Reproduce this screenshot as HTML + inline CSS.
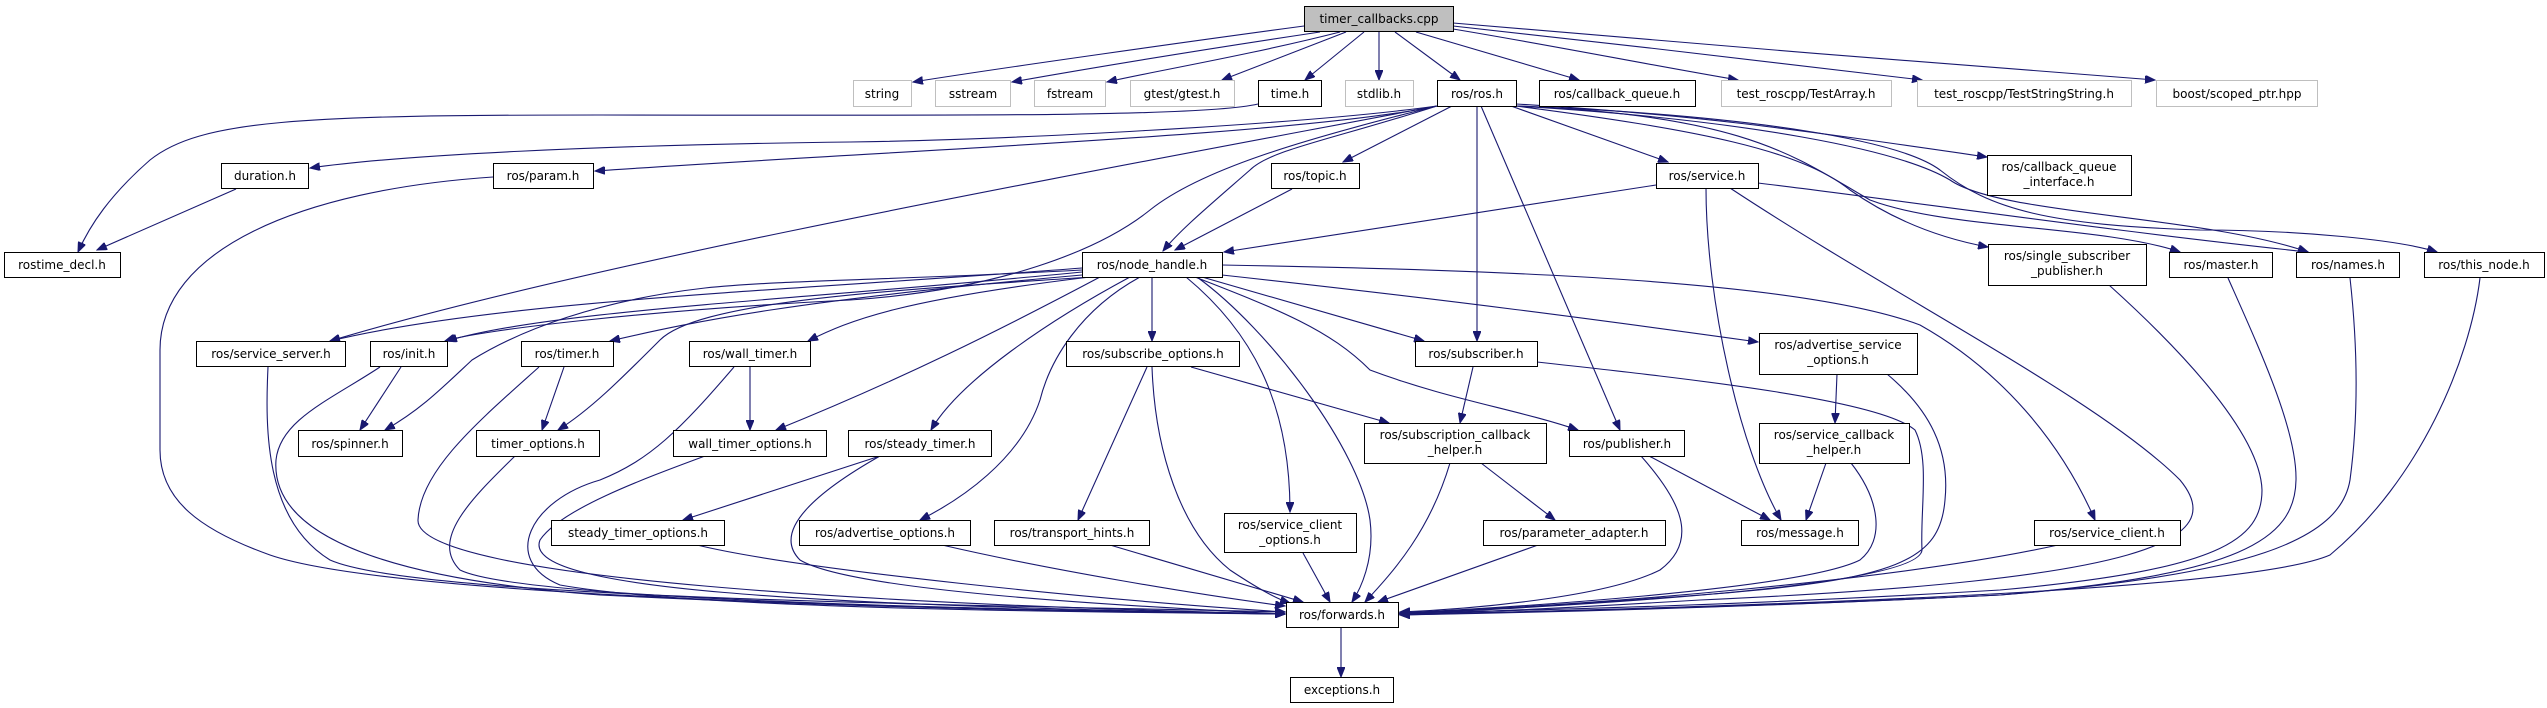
<!DOCTYPE html>
<html><head><meta charset="utf-8"><style>
html,body{margin:0;padding:0;background:#fff;}
svg{display:block;}
text{font-family:"DejaVu Sans","Liberation Sans",sans-serif;font-size:12px;fill:#000;text-anchor:middle;}
.e{fill:none;stroke:#191970;stroke-width:1.1;marker-end:url(#a);}
.b{fill:#fff;stroke:#000;stroke-width:1;}
.g{fill:#fff;stroke:#bfbfbf;stroke-width:1;}
</style></head><body>
<svg width="2547" height="708" viewBox="0 0 2547 708" xmlns="http://www.w3.org/2000/svg">
<defs><marker id="a" markerUnits="userSpaceOnUse" markerWidth="11" markerHeight="8" refX="10" refY="4" orient="auto"><path d="M0,0 L10,4 L0,8 z" fill="#191970" stroke="#191970"/></marker></defs>

<!-- edges from root -->
<path class="e" d="M1304,26 C1200,40 1000,68 913,82"/>
<path class="e" d="M1320,32 C1200,50 1080,70 1012,82"/>
<path class="e" d="M1340,32 C1250,55 1150,72 1107,82"/>
<path class="e" d="M1346,32 C1300,50 1260,65 1222,80"/>
<path class="e" d="M1364,32 L1305,80"/>
<path class="e" d="M1379,32 L1379,80"/>
<path class="e" d="M1395,32 L1460,80"/>
<path class="e" d="M1416,32 L1579,80"/>
<path class="e" d="M1453,29 C1550,45 1650,65 1738,80"/>
<path class="e" d="M1453,26 C1600,42 1800,65 1922,80"/>
<path class="e" d="M1453,23 C1650,40 1950,65 2155,80"/>

<!-- time.h -->
<path class="e" d="M1258,104 C1200,118 900,115 600,115 C300,115 200,120 150,160 C110,195 90,225 78,252"/>
<!-- ros.h -->
<path class="e" d="M1437,106 C1300,125 1000,140 850,142 C600,145 400,155 310,168"/>
<path class="e" d="M1437,106 C1300,135 900,150 595,171"/>
<path class="e" d="M1437,106 C1100,170 600,260 330,341"/>
<path class="e" d="M1437,106 C1300,140 1200,170 1150,210 C1100,250 1000,290 850,300 C650,310 480,330 445,341"/>
<path class="e" d="M1452,106 L1343,162"/>
<path class="e" d="M1437,106 C1330,140 1270,150 1250,170 C1210,205 1180,230 1163,251"/>
<path class="e" d="M1477,106 L1477,341"/>
<path class="e" d="M1481,106 L1620,430"/>
<path class="e" d="M1511,106 L1668,162"/>
<path class="e" d="M1516,104 C1700,115 1800,130 1987,157"/>
<path class="e" d="M1516,106 C1700,130 1800,150 1850,190 C1900,225 1950,240 1988,247"/>
<path class="e" d="M1516,106 C1750,115 1800,160 1870,200 C1950,230 2100,225 2180,252"/>
<path class="e" d="M1516,106 C1750,120 1900,150 1950,180 C2000,215 2200,215 2308,252"/>
<path class="e" d="M1516,106 C1750,115 1900,140 1940,170 C1990,210 2050,225 2200,230 C2300,230 2400,240 2437,252"/>
<!-- duration, param, topic -->
<path class="e" d="M236,189 L97,250"/>
<path class="e" d="M493,177 C300,190 160,250 160,350 L160,450 C160,500 200,530 270,555 C400,600 1000,610 1285,614"/>
<path class="e" d="M1292,189 L1175,250"/>
<!-- service.h -->
<path class="e" d="M1656,185 L1224,252"/>
<path class="e" d="M1706,188 C1706,300 1740,450 1781,520"/>
<path class="e" d="M1730,188 C1900,300 2100,400 2180,480 C2230,540 2150,580 1700,600 C1500,612 1420,614 1400,614"/>
<path class="e" d="M1758,183 C1900,200 2100,230 2308,252"/>
<!-- node_handle.h -->
<path class="e" d="M1082,268 C800,290 500,300 330,341"/>
<path class="e" d="M1082,272 C800,300 550,310 447,341"/>
<path class="e" d="M1082,270 C900,280 780,280 705,288 C600,300 520,330 472,360 C440,390 420,410 385,430"/>
<path class="e" d="M1082,275 C800,300 700,320 610,341"/>
<path class="e" d="M1090,277 C900,290 700,300 660,340 C620,380 590,410 558,430"/>
<path class="e" d="M1090,277 C900,300 850,320 808,341"/>
<path class="e" d="M1100,277 C1000,330 900,380 776,430"/>
<path class="e" d="M1130,277 C1050,320 960,380 931,430"/>
<path class="e" d="M1140,277 C1080,310 1050,360 1040,400 C1020,460 960,500 920,520"/>
<path class="e" d="M1152,277 L1152,341"/>
<path class="e" d="M1186,277 C1250,330 1290,400 1290,512"/>
<path class="e" d="M1197,277 C1270,330 1360,450 1370,520 C1375,560 1360,590 1352,602"/>
<path class="e" d="M1202,277 L1424,341"/>
<path class="e" d="M1195,277 C1280,310 1330,330 1370,370 C1450,400 1520,410 1578,430"/>
<path class="e" d="M1222,275 C1450,300 1600,320 1758,342"/>
<path class="e" d="M1222,265 C1500,270 1800,280 1920,325 C2000,370 2060,440 2095,520"/>
<!-- middle rows -->
<path class="e" d="M268,367 C265,430 265,520 330,560 C420,600 1000,605 1285,612"/>
<path class="e" d="M401,367 L360,430"/>
<path class="e" d="M380,367 C330,400 280,420 276,460 C270,540 400,580 600,595 C900,610 1150,612 1285,614"/>
<path class="e" d="M564,367 L542,430"/>
<path class="e" d="M539,367 C480,420 420,470 418,520 C415,580 900,605 1285,614"/>
<path class="e" d="M515,456 C470,500 430,540 460,570 C520,600 1000,610 1285,614"/>
<path class="e" d="M734,367 C680,430 650,460 600,480 C530,500 500,560 560,585 C700,610 1100,612 1285,614"/>
<path class="e" d="M750,367 L750,430"/>
<path class="e" d="M705,456 C640,480 560,510 540,540 C520,590 800,605 1285,614"/>
<path class="e" d="M880,456 L683,520"/>
<path class="e" d="M880,456 C820,490 770,530 800,560 C850,590 1100,605 1285,614"/>
<path class="e" d="M697,545 C800,570 1100,600 1285,612"/>
<path class="e" d="M942,545 C1050,570 1200,595 1285,606"/>
<path class="e" d="M1147,367 L1078,520"/>
<path class="e" d="M1152,367 C1155,450 1180,530 1230,570 C1260,590 1280,600 1290,603"/>
<path class="e" d="M1191,367 L1389,423"/>
<path class="e" d="M1110,545 L1303,602"/>
<path class="e" d="M1303,553 L1330,602"/>
<path class="e" d="M1473,367 L1460,423"/>
<path class="e" d="M1537,362 C1700,380 1880,400 1915,430 C1930,460 1920,510 1922,550 C1920,580 1700,600 1400,614"/>
<path class="e" d="M1481,463 L1555,520"/>
<path class="e" d="M1450,463 C1430,530 1395,570 1365,602"/>
<path class="e" d="M1538,545 L1378,602"/>
<path class="e" d="M1649,456 L1770,520"/>
<path class="e" d="M1641,456 C1680,500 1700,540 1660,570 C1600,600 1450,610 1400,612"/>
<path class="e" d="M1837,374 L1835,423"/>
<path class="e" d="M1887,374 C1930,410 1950,450 1945,500 C1940,560 1900,580 1700,595 C1500,610 1420,612 1400,613"/>
<path class="e" d="M1826,463 L1806,520"/>
<path class="e" d="M1851,463 C1880,500 1885,540 1860,560 C1800,590 1500,608 1400,613"/>
<path class="e" d="M2058,545 C1900,580 1600,605 1400,613"/>
<path class="e" d="M2109,285 C2170,340 2260,430 2262,490 C2262,540 2220,570 2000,590 C1700,608 1450,612 1400,613"/>
<path class="e" d="M2228,278 C2260,350 2297,430 2296,480 C2295,540 2240,575 2000,595 C1700,610 1450,613 1400,614"/>
<path class="e" d="M2350,278 C2358,350 2358,420 2350,480 C2340,540 2250,575 2000,595 C1700,610 1450,614 1400,615"/>
<path class="e" d="M2480,278 C2470,360 2420,480 2330,555 C2250,590 1800,605 1400,615"/>
<path class="e" d="M1341,627 L1341,677"/>

<!-- nodes -->
<rect x="1304.5" y="6.5" width="149" height="25" fill="#bfbfbf" stroke="#000"/><text x="1379" y="23">timer_callbacks.cpp</text>
<rect class="g" x="853.5" y="80.5" width="58" height="26"/><text x="882" y="98">string</text>
<rect class="g" x="935.5" y="80.5" width="75" height="26"/><text x="973" y="98">sstream</text>
<rect class="g" x="1034.5" y="80.5" width="71" height="26"/><text x="1070" y="98">fstream</text>
<rect class="g" x="1130.5" y="80.5" width="104" height="26"/><text x="1182" y="98">gtest/gtest.h</text>
<rect class="b" x="1258.5" y="80.5" width="63" height="26"/><text x="1290" y="98">time.h</text>
<rect class="g" x="1345.5" y="80.5" width="68" height="26"/><text x="1379" y="98">stdlib.h</text>
<rect class="b" x="1437.5" y="80.5" width="79" height="26"/><text x="1477" y="98">ros/ros.h</text>
<rect class="b" x="1539.5" y="80.5" width="156" height="26"/><text x="1617" y="98">ros/callback_queue.h</text>
<rect class="g" x="1721.5" y="80.5" width="170" height="26"/><text x="1806" y="98">test_roscpp/TestArray.h</text>
<rect class="g" x="1917.5" y="80.5" width="214" height="26"/><text x="2024" y="98">test_roscpp/TestStringString.h</text>
<rect class="g" x="2156.5" y="80.5" width="161" height="26"/><text x="2237" y="98">boost/scoped_ptr.hpp</text>

<rect class="b" x="221.5" y="163.5" width="87" height="25"/><text x="265" y="180">duration.h</text>
<rect class="b" x="493.5" y="163.5" width="100" height="25"/><text x="543" y="180">ros/param.h</text>
<rect class="b" x="1271.5" y="163.5" width="88" height="25"/><text x="1315" y="180">ros/topic.h</text>
<rect class="b" x="1656.5" y="163.5" width="102" height="25"/><text x="1707" y="180">ros/service.h</text>
<rect class="b" x="1987.5" y="155.5" width="144" height="40"/><text x="2059" y="171">ros/callback_queue</text><text x="2059" y="186">_interface.h</text>

<rect class="b" x="4.5" y="252.5" width="116" height="25"/><text x="62" y="269">rostime_decl.h</text>
<rect class="b" x="1082.5" y="252.5" width="140" height="25"/><text x="1152" y="269">ros/node_handle.h</text>
<rect class="b" x="1988.5" y="244.5" width="158" height="41"/><text x="2067" y="260">ros/single_subscriber</text><text x="2067" y="275">_publisher.h</text>
<rect class="b" x="2169.5" y="252.5" width="103" height="25"/><text x="2221" y="269">ros/master.h</text>
<rect class="b" x="2296.5" y="252.5" width="103" height="25"/><text x="2348" y="269">ros/names.h</text>
<rect class="b" x="2424.5" y="252.5" width="120" height="25"/><text x="2484" y="269">ros/this_node.h</text>

<rect class="b" x="196.5" y="341.5" width="149" height="25"/><text x="271" y="358">ros/service_server.h</text>
<rect class="b" x="370.5" y="341.5" width="77" height="25"/><text x="409" y="358">ros/init.h</text>
<rect class="b" x="521.5" y="341.5" width="92" height="25"/><text x="567" y="358">ros/timer.h</text>
<rect class="b" x="689.5" y="341.5" width="121" height="25"/><text x="750" y="358">ros/wall_timer.h</text>
<rect class="b" x="1066.5" y="341.5" width="173" height="25"/><text x="1153" y="358">ros/subscribe_options.h</text>
<rect class="b" x="1415.5" y="341.5" width="122" height="25"/><text x="1476" y="358">ros/subscriber.h</text>
<rect class="b" x="1759.5" y="333.5" width="158" height="41"/><text x="1838" y="349">ros/advertise_service</text><text x="1838" y="364">_options.h</text>

<rect class="b" x="298.5" y="430.5" width="104" height="26"/><text x="350" y="448">ros/spinner.h</text>
<rect class="b" x="476.5" y="430.5" width="123" height="26"/><text x="538" y="448">timer_options.h</text>
<rect class="b" x="673.5" y="430.5" width="153" height="26"/><text x="750" y="448">wall_timer_options.h</text>
<rect class="b" x="848.5" y="430.5" width="143" height="26"/><text x="920" y="448">ros/steady_timer.h</text>
<rect class="b" x="1364.5" y="423.5" width="182" height="40"/><text x="1455" y="439">ros/subscription_callback</text><text x="1455" y="454">_helper.h</text>
<rect class="b" x="1569.5" y="430.5" width="115" height="26"/><text x="1627" y="448">ros/publisher.h</text>
<rect class="b" x="1759.5" y="423.5" width="150" height="40"/><text x="1834" y="439">ros/service_callback</text><text x="1834" y="454">_helper.h</text>

<rect class="b" x="551.5" y="520.5" width="173" height="25"/><text x="638" y="537">steady_timer_options.h</text>
<rect class="b" x="799.5" y="520.5" width="171" height="25"/><text x="885" y="537">ros/advertise_options.h</text>
<rect class="b" x="994.5" y="520.5" width="155" height="25"/><text x="1072" y="537">ros/transport_hints.h</text>
<rect class="b" x="1224.5" y="513.5" width="132" height="39"/><text x="1290" y="529">ros/service_client</text><text x="1290" y="544">_options.h</text>
<rect class="b" x="1483.5" y="520.5" width="182" height="25"/><text x="1574" y="537">ros/parameter_adapter.h</text>
<rect class="b" x="1741.5" y="520.5" width="117" height="25"/><text x="1800" y="537">ros/message.h</text>
<rect class="b" x="2034.5" y="520.5" width="146" height="25"/><text x="2107" y="537">ros/service_client.h</text>

<rect class="b" x="1286.5" y="602.5" width="112" height="25"/><text x="1342" y="619">ros/forwards.h</text>
<rect class="b" x="1290.5" y="677.5" width="103" height="25"/><text x="1342" y="694">exceptions.h</text>
</svg>
</body></html>
